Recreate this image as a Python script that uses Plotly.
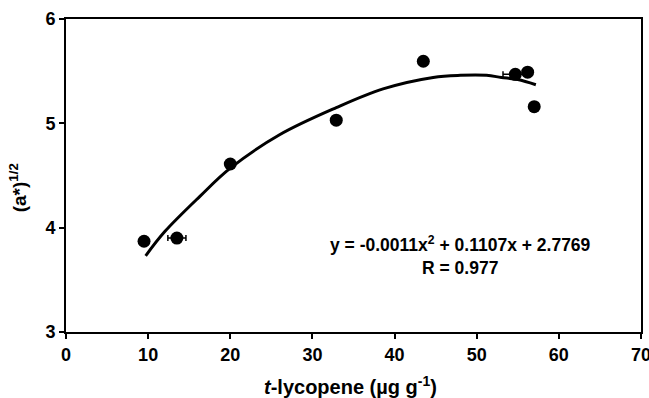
import plotly.graph_objects as go

# Data points
lycopene = [9.5, 13.5, 20.0, 32.9, 43.5, 54.7, 56.2, 57.0]
a_sqrt = [3.87, 3.90, 4.61, 5.03, 5.595, 5.47, 5.49, 5.16]
x_err = [0, 1.1, 0, 0, 0, 1.5, 0, 0]

# Fitted trend curve
fit_x = [9.7, 12.0, 16.3, 20.0, 26.0, 32.9, 38.6, 44.7, 48.0, 51.2, 53.0, 55.0, 57.2]
fit_y = [3.73, 3.96, 4.30, 4.57, 4.89, 5.15, 5.33, 5.44, 5.46, 5.46, 5.44, 5.42, 5.37]

x_ticks = [0, 10, 20, 30, 40, 50, 60, 70]
y_ticks = [3, 4, 5, 6]

font_family = "Liberation Sans, Arial, sans-serif"

fig = go.Figure()
fig.add_trace(go.Scatter(
    x=fit_x, y=fit_y, mode="lines",
    line=dict(color="black", width=3, shape="spline"),
    showlegend=False, hoverinfo="skip"))
fig.add_trace(go.Scatter(
    x=lycopene, y=a_sqrt, mode="markers",
    marker=dict(color="black", size=13),
    error_x=dict(type="data", array=x_err, color="black", thickness=1.5, width=3),
    showlegend=False))

axis_common = dict(
    showgrid=False, zeroline=False, showline=True, linecolor="black", linewidth=2,
    mirror=True, ticks="outside", ticklen=5, tickwidth=2, tickcolor="black",
    tickfont=dict(family=font_family, size=18, color="black", weight=700),
    ticklabeloverflow="allow", automargin=False,
)
fig.update_xaxes(range=[0, 70], tickvals=x_ticks,
                 ticktext=[f"<b>{v}</b>" for v in x_ticks], **axis_common)
fig.update_yaxes(range=[3, 6], tickvals=y_ticks,
                 ticktext=[f"<b>{v}</b>" for v in y_ticks], **axis_common)

fig.add_annotation(
    x=0.494, y=-0.125, xref="paper", yref="paper", xanchor="center", yanchor="top",
    text="<b><i>t</i>-lycopene (µg g<sup>-1</sup>)</b>", showarrow=False,
    font=dict(family=font_family, size=20, color="black"))
fig.add_annotation(
    x=-0.083, y=0.46, xref="paper", yref="paper", xanchor="center", yanchor="middle",
    text="<b>(a*)<sup>1/2</sup></b>", showarrow=False, textangle=-90,
    font=dict(family=font_family, size=19, color="black"))
fig.add_annotation(
    x=48.0, y=3.73, xref="x", yref="y", xanchor="center", yanchor="middle",
    text="<b>y = -0.0011x<sup>2</sup> + 0.1107x + 2.7769<br>R = 0.977</b>",
    showarrow=False, align="center",
    font=dict(family=font_family, size=17.5, color="black"))

fig.update_layout(
    width=649, height=398,
    margin=dict(l=66, r=8, t=19, b=66, autoexpand=False),
    paper_bgcolor="white", plot_bgcolor="white",
)

fig.write_html("out.html", config={"displayModeBar": False})
with open("out.html", "r", encoding="utf-8") as f:
    html = f.read()
html = html.replace("<body>", '<body style="margin:0;padding:0;overflow:hidden">', 1)
with open("out.html", "w", encoding="utf-8") as f:
    f.write(html)
